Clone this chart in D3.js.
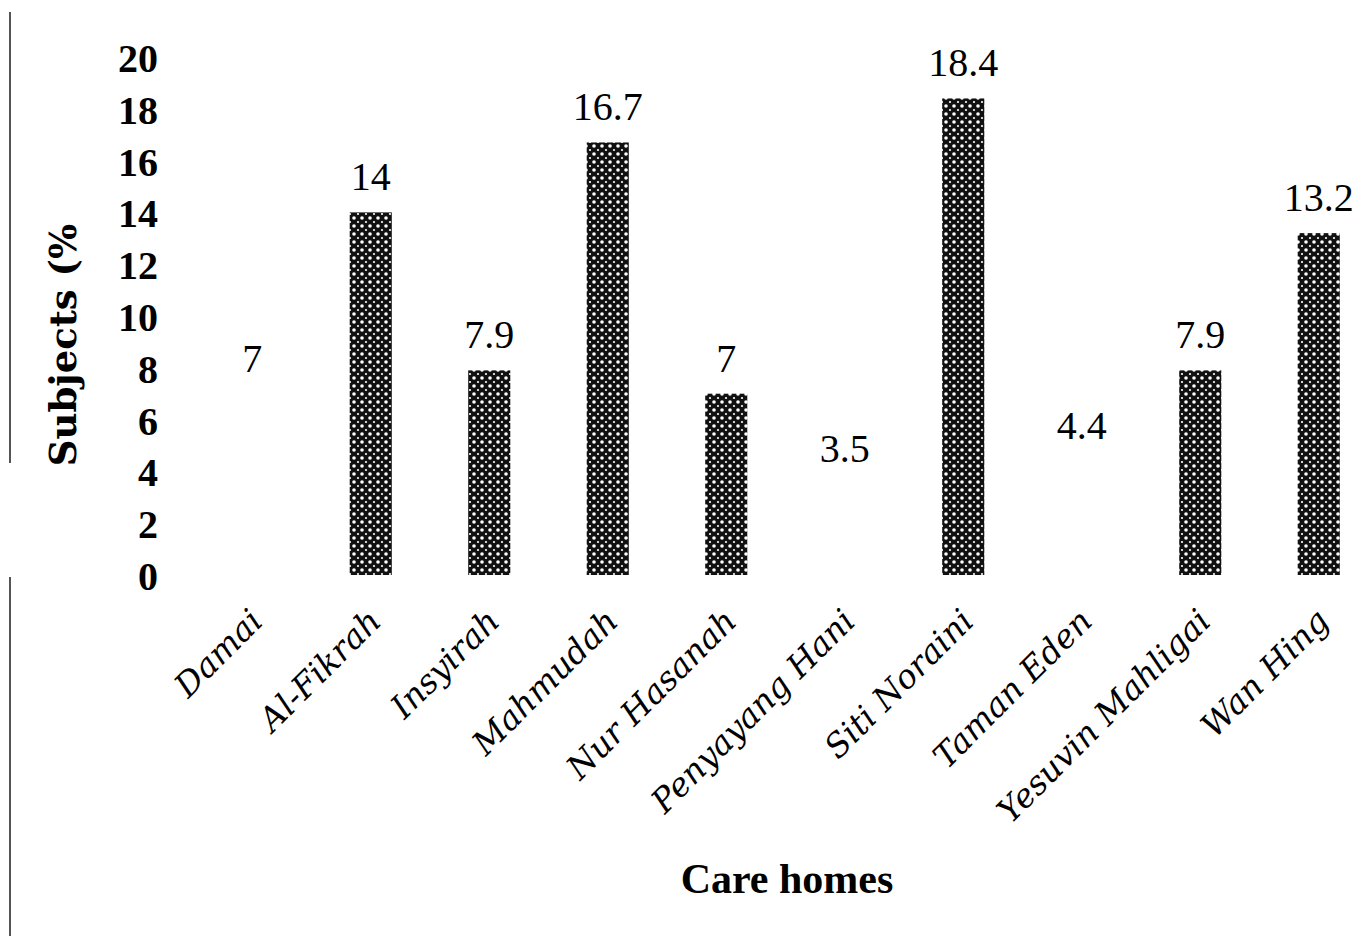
<!DOCTYPE html>
<html>
<head>
    <meta charset="utf-8">
    <title>Care homes</title>
    <style>
        body { margin: 0; background: #fff; }
    </style>
</head>
<body>
    <script src="https://d3js.org/d3.v7.min.js"></script>
    <script>
    const homes = ["Damai", "Al-Fikrah", "Insyirah", "Mahmudah", "Nur Hasanah",
        "Penyayang Hani", "Siti Noraini", "Taman Eden", "Yesuvin Mahligai", "Wan Hing"];
    const subjects = [7, 14, 7.9, 16.7, 7, 3.5, 18.4, 4.4, 7.9, 13.2];
    // bars for these homes did not print in the original
    const barShown = [false, true, true, true, true, false, true, false, true, true];
    const yTicks = [0, 2, 4, 6, 8, 10, 12, 14, 16, 18, 20];

    const width = 1366, height = 936;

    var svg = d3.select("body").append("svg")
        .attr("width", width)
        .attr("height", height);

    // dotted fill used by the bars
    var pat = svg.append("defs").append("pattern")
        .attr("id", "dots")
        .attr("patternUnits", "userSpaceOnUse")
        .attr("width", 8).attr("height", 8);
    pat.append("rect").attr("width", 8).attr("height", 8).attr("fill", "#111");
    pat.append("circle").attr("cx", 2).attr("cy", 2).attr("r", 1.8).attr("fill", "#fff");
    pat.append("circle").attr("cx", 6).attr("cy", 6).attr("r", 1.1).attr("fill", "#fff");

    // page margin line on the left
    svg.append("line").attr("x1", 10).attr("x2", 10).attr("y1", 12).attr("y2", 463)
        .attr("stroke", "#555").attr("stroke-width", 2);
    svg.append("line").attr("x1", 10).attr("x2", 10).attr("y1", 577).attr("y2", 936)
        .attr("stroke", "#555").attr("stroke-width", 2);

    var x = d3.scaleBand()
        .domain(homes)
        .range([193, 1378])
        .paddingInner(0.645)
        .paddingOuter(0.3225);

    var y = d3.scaleLinear()
        .domain([0, 20])
        .range([575, 57]);

    var yAxis = svg.append("g")
        .attr("transform", "translate(160,0)")
        .call(d3.axisLeft(y).tickValues(yTicks).tickSize(0).tickPadding(2));
    yAxis.select(".domain").remove();
    yAxis.selectAll("text")
        .attr("dy", "0.36em")
        .style("font-family", "'Liberation Serif', serif")
        .style("font-weight", "bold")
        .style("font-size", "40px")
        .style("fill", "#000");

    var xAxis = svg.append("g")
        .attr("transform", "translate(0,575)")
        .call(d3.axisBottom(x).tickSize(0));
    xAxis.select(".domain").remove();
    xAxis.selectAll("text")
        .attr("transform", "translate(4,40) rotate(-45)")
        .attr("dy", "0.35em")
        .attr("y", 0)
        .style("text-anchor", "end")
        .style("font-family", "'DejaVu Serif', serif")
        .style("font-style", "italic")
        .style("font-size", "33px")
        .style("fill", "#000");

    svg.selectAll("rect.bar")
        .data(homes.filter(function(d, i) { return barShown[i]; }))
        .enter()
        .append("rect")
        .attr("class", "bar")
        .attr("x", function(d) { return x(d); })
        .attr("y", function(d) { return y(subjects[homes.indexOf(d)]); })
        .attr("width", x.bandwidth())
        .attr("height", function(d) { return y(0) - y(subjects[homes.indexOf(d)]); })
        .attr("fill", "url(#dots)");

    svg.selectAll("text.val")
        .data(homes)
        .enter()
        .append("text")
        .attr("class", "val")
        .attr("x", function(d) { return x(d) + x.bandwidth() / 2; })
        .attr("y", function(d, i) { return y(subjects[i]) - 22; })
        .style("text-anchor", "middle")
        .style("font-family", "'Liberation Serif', serif")
        .style("font-size", "40px")
        .text(function(d, i) { return subjects[i]; });

    svg.append("text")
        .attr("transform", "translate(76,345) rotate(-90)")
        .style("text-anchor", "middle")
        .style("font-family", "'DejaVu Serif', serif")
        .style("font-weight", "bold")
        .style("font-size", "37px")
        .text("Subjects (%");

    svg.append("text")
        .attr("x", 787)
        .attr("y", 893)
        .style("text-anchor", "middle")
        .style("font-family", "'Liberation Serif', serif")
        .style("font-weight", "bold")
        .style("font-size", "42px")
        .text("Care homes");
    </script>
</body>
</html>
